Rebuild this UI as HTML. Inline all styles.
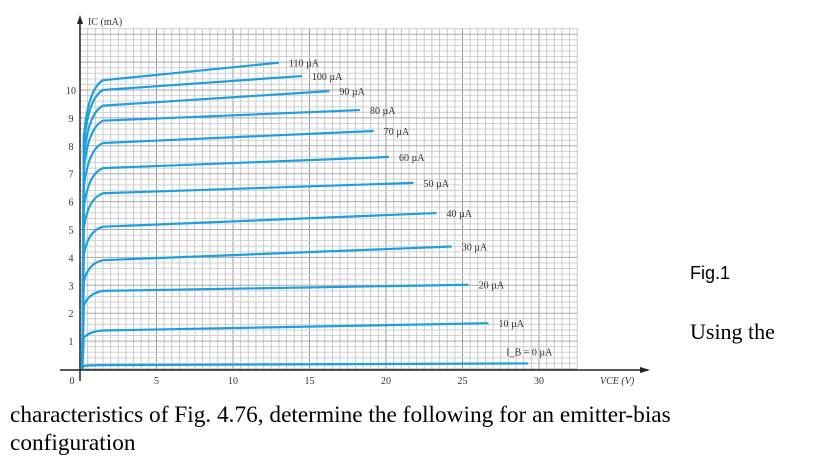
<!DOCTYPE html>
<html><head><meta charset="utf-8"><style>
body{margin:0;background:#fff;width:814px;height:459px;overflow:hidden;position:relative}
.t{position:absolute;font-family:"Liberation Serif",serif;font-size:22px;color:#000}
</style></head><body>
<svg id="chart" width="814" height="400" style="position:absolute;left:0;top:0"></svg>
<div class="t" style="left:690px;top:263px;font-family:'Liberation Sans',sans-serif;font-size:18px">Fig.1</div>
<div class="t" style="left:690px;top:319px">Using the</div>
<div class="t" style="left:10px;top:401px;line-height:28px;font-size:23.3px">characteristics of Fig. 4.76, determine the following for an emitter-bias<br>configuration</div>
<script>
const ibLabels=["I_B = 0 µA","10 µA","20 µA","30 µA","40 µA","50 µA","60 µA","70 µA","80 µA","90 µA","100 µA","110 µA"];
const startIc=[0.14,1.38,2.8,3.9,5.1,6.3,7.2,8.1,8.9,9.44,10.0,10.35];
const endIc=[0.2,1.64,3.02,4.39,5.59,6.67,7.6,8.53,9.28,9.96,10.5,10.98];
const endVce=[29.3,26.7,25.4,24.3,23.3,21.8,20.2,19.2,18.3,16.3,14.5,13.0];
const xTicks=[0,5,10,15,20,25,30];
const yTicks=[1,2,3,4,5,6,7,8,9,10];
const NS="http://www.w3.org/2000/svg";
const svg=document.getElementById('chart');
const x0=80,y0=369,px=15.3,py=27.9;
const X=v=>x0+v*px, Y=i=>y0-i*py;
function el(tag,a){const e=document.createElementNS(NS,tag);for(const k in a)e.setAttribute(k,a[k]);svg.appendChild(e);return e;}
for(let v=0;v<=32.5;v+=0.5){const l=el('line',{x1:X(v),x2:X(v),y1:28,y2:y0,stroke:(v%5===0)?'#999':'#c8c8c8','stroke-width':1});

}
for(let i=0;i<=12.2;i+=0.2){const l=el('line',{x1:x0,x2:X(32.5),y1:Y(i),y2:Y(i),stroke:(Math.abs(i-Math.round(i))<0.01)?'#aaa':'#d0d0d0','stroke-width':1});

}
let a=el('line',{x1:60,x2:648,y1:y0+1,y2:y0+1,stroke:'#222','stroke-width':1.5});


a=el('line',{x1:x0,x2:x0,y1:18,y2:y0+12,stroke:'#222','stroke-width':1.5});


el('polygon',{points:`${x0-3},24 ${x0+3},24 ${x0},15`,fill:'#222'});
el('polygon',{points:`640,${y0-2} 640,${y0+4} 650,${y0+1}`,fill:'#222'});
xTicks.forEach(v=>{const t=el('text',{x:X(v)+(v===0?-8:0),y:384,'font-family':'Liberation Serif,serif','font-size':10,'text-anchor':'middle',fill:'#333'});t.textContent=v;

});
yTicks.forEach(i=>{const t=el('text',{x:71,y:Y(i)+4,'font-family':'Liberation Serif,serif','font-size':10,'text-anchor':'middle',fill:'#333'});t.textContent=i;

});
let t=el('text',{x:88,y:25,'font-family':'Liberation Serif,serif','font-size':10,fill:'#333'});t.textContent='IC (mA)';


t=el('text',{x:600,y:384,'font-family':'Liberation Serif,serif','font-size':10,'font-style':'italic',fill:'#333'});t.textContent='VCE (V)';


ibLabels.forEach((lab,k)=>{
 const s=startIc[k],e=endIc[k],ev=endVce[k];
 const d=`M${X(0.15)},${Y(0)} L${X(0.25)},${Y(s*0.8)} Q${X(0.5)},${Y(s*0.97)} ${X(1.5)},${Y(s)} L${X(ev)},${Y(e)}`;
 const p=el('path',{d:d,fill:'none',stroke:'#1ea0dc','stroke-width':2.2});
 
 
 const tl=el('text',{x:X(ev)+(k===0?-22:10),y:Y(e)+(k===0?-8:4),'font-family':'Liberation Serif,serif','font-size':10,fill:'#333'});
 tl.textContent=lab;
 
 
});
</script>
</body></html>
